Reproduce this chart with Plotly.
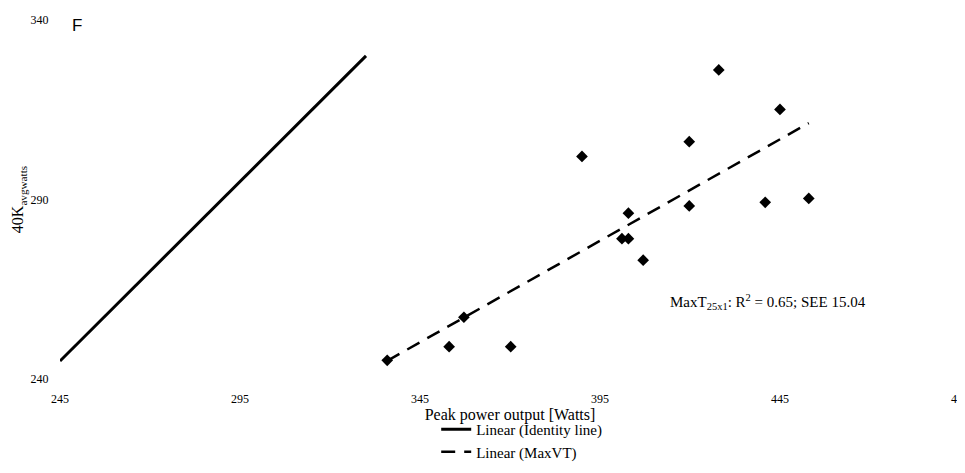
import numpy as np
import plotly.graph_objects as go

# Data
peak_power = [335.9, 353.1, 357.2, 370.2, 390.0, 401.1, 402.9, 402.9, 407.0,
              419.8, 419.8, 428.0, 440.9, 445.0, 453.0]
avg_watts_40k = [245.2, 249.0, 257.2, 249.0, 302.0, 279.1, 279.1, 286.2, 273.1,
                 306.1, 288.2, 326.1, 289.2, 315.1, 290.3]
identity_x = [245, 330]
x_ticks = [245, 295, 345, 395, 445, 495]
y_ticks = [240, 290, 340]

# Linear fit (MaxVT)
slope, intercept = np.polyfit(peak_power, avg_watts_40k, 1)
fit_x = [min(peak_power), max(peak_power)]
fit_y = [slope * v + intercept for v in fit_x]

serif = "Liberation Serif, Times New Roman, serif"

fig = go.Figure()
fig.add_trace(go.Scatter(
    x=peak_power, y=avg_watts_40k, mode="markers",
    marker=dict(symbol="diamond", size=9, color="black"),
    showlegend=False, name="MaxVT", cliponaxis=False))
fig.add_trace(go.Scatter(
    x=identity_x, y=identity_x, mode="lines",
    line=dict(color="black", width=3),
    name="Linear (Identity line)"))
fig.add_trace(go.Scatter(
    x=fit_x, y=fit_y, mode="lines",
    line=dict(color="black", width=2.5, dash="14px,9px"),
    name="Linear (MaxVT)"))

fig.update_layout(
    width=957, height=465,
    margin=dict(l=52, r=5, t=12, b=88),
    paper_bgcolor="white", plot_bgcolor="white",
    font=dict(family=serif, color="black", size=12),
    xaxis=dict(range=[245, 495.01], tickvals=x_ticks, showgrid=False, zeroline=False,
               showline=False, ticks="outside", ticklen=9, tickcolor="rgba(0,0,0,0)",
               automargin=False, ticklabeloverflow="allow",
               tickfont=dict(family=serif, size=12, color="black"),
               title=dict(text="Peak power output [Watts]", standoff=0,
                          font=dict(family=serif, size=16, color="black"))),
    yaxis=dict(range=[240, 340], tickvals=y_ticks, showgrid=False, zeroline=False,
               showline=False, ticks="outside", ticklen=8, tickcolor="rgba(0,0,0,0)",
               automargin=False,
               tickfont=dict(family=serif, size=12, color="black"),
               title=dict(text="40K<sub>avgwatts</sub>", standoff=2,
                          font=dict(family=serif, size=16, color="black"))),
    legend=dict(x=0.418, y=-0.095, xanchor="left", yanchor="top",
                font=dict(family=serif, size=15, color="black"),
                bgcolor="rgba(0,0,0,0)", itemwidth=30, tracegroupgap=0),
    annotations=[
        dict(text="F", x=0.011, y=0.986, xref="paper", yref="paper",
             xanchor="left", yanchor="middle", showarrow=False,
             font=dict(family="Liberation Sans, Arial, sans-serif", size=17, color="black")),
        dict(text="MaxT<sub>25x1</sub>: R<sup>2</sup> = 0.65; SEE 15.04",
             x=0.787, y=0.214, xref="paper", yref="paper",
             xanchor="center", yanchor="middle", showarrow=False,
             font=dict(family=serif, size=15, color="black")),
    ],
)

fig.write_html("out.html")
